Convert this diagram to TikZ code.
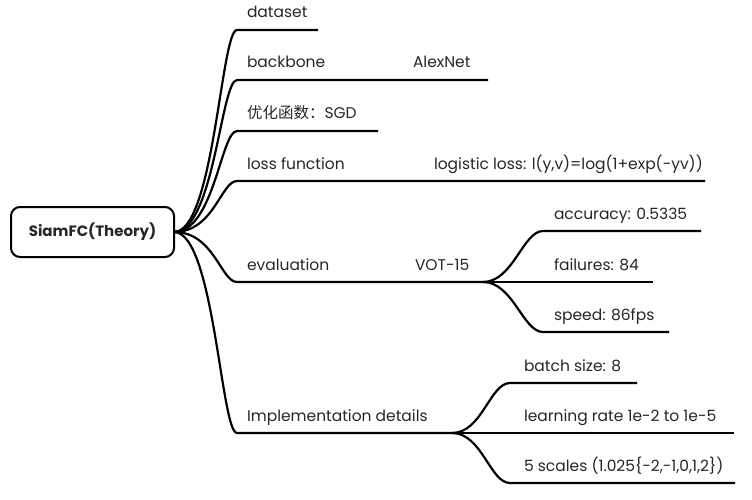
\documentclass[tikz,border=0pt]{standalone}
\usepackage{fontspec}
\setmainfont{Poppins}
\newfontfamily\cjk{Noto Sans CJK SC}

\begin{document}
\begin{tikzpicture}[x=1pt,y=-1pt,line width=2.2pt,
    every node/.style={font=\fontsize{15.5}{18}\selectfont,text=black!85,inner sep=0pt,outer sep=0pt},
    topic/.style={draw,line width=2pt,rounded corners=9pt,minimum width=163pt,minimum height=50pt,font=\fontsize{15}{18}\selectfont\bfseries},
    leaf/.style={anchor=base west}]
    \useasboundingbox (0,0) rectangle (752,500);
    \node [topic] (root) at (92.5,232) {SiamFC(Theory)};

    % first level
    \node [leaf] (dataset) at (247,18) {dataset};
    \node [leaf] (backbone) at (247,68) {backbone};
    \node [leaf] (alexnet) at (413,68) {AlexNet};
    \node [leaf] (optim) at (247,119) {{\cjk 优化函数：}SGD};
    \node [leaf] (loss) at (247,169) {loss function};
    \node [leaf] (logistic) at (434,169) {logistic loss: l(y,v)=log(1+exp(-yv))};
    \node [leaf] (eval) at (247,270) {evaluation};
    \node [leaf] (vot) at (415,270) {VOT-15};
    \node [leaf] (impl) at (247,421) {Implementation details};

    % second level
    \node [leaf] (acc) at (554,219) {accuracy: 0.5335};
    \node [leaf] (fail) at (554,270) {failures: 84};
    \node [leaf] (speed) at (554,320) {speed: 86fps};
    \node [leaf] (batch) at (524,371) {batch size: 8};
    \node [leaf] (lr) at (524,421) {learning rate 1e-2 to 1e-5};
    \node [leaf] (scales) at (524,471) {5 scales (1.025\{-2,-1,0,1,2\})};

    \coordinate (dataset-l) at (237,30);  \coordinate (dataset-r) at (318,30);
    \coordinate (backbone-l) at (237,80); \coordinate (backbone-r) at (488,80);
    \coordinate (optim-l) at (237,131);   \coordinate (optim-r) at (378,131);
    \coordinate (loss-l) at (237,181);    \coordinate (loss-r) at (705,181);
    \coordinate (eval-l) at (237,282);    \coordinate (eval-r) at (483,282);
    \coordinate (impl-l) at (237,433);    \coordinate (impl-r) at (452,433);

    \coordinate (acc-l) at (543,231);     \coordinate (acc-r) at (701,231);
    \coordinate (fail-l) at (543,282);    \coordinate (fail-r) at (653,282);
    \coordinate (speed-l) at (543,332);   \coordinate (speed-r) at (669,332);
    \coordinate (batch-l) at (510,383);   \coordinate (batch-r) at (637,383);
    \coordinate (lr-l) at (510,433);      \coordinate (lr-r) at (734,433);
    \coordinate (scales-l) at (510,483);  \coordinate (scales-r) at (735,483);

    \foreach \b in {dataset,backbone,optim,loss,eval,impl}
        \draw (root.east) .. controls +(40,0) and +(-16,0) .. (\b-l) -- (\b-r);
    \foreach \b in {acc,fail,speed}
        \draw (eval-r) .. controls +(30,0) and +(-20,0) .. (\b-l) -- (\b-r);
    \foreach \b in {batch,lr,scales}
        \draw (impl-r) .. controls +(30,0) and +(-20,0) .. (\b-l) -- (\b-r);
\end{tikzpicture}
\end{document}
